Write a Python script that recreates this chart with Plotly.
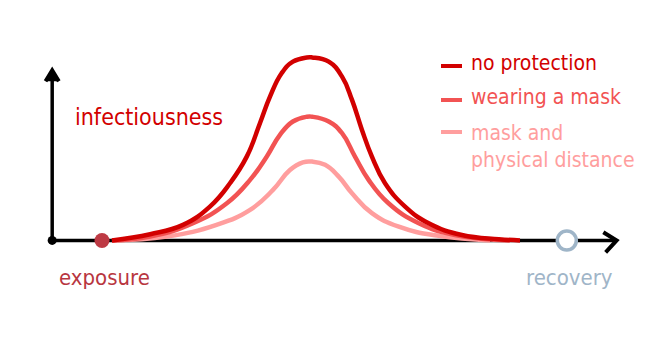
import plotly.graph_objects as go

# ---- data (time in days after exposure, relative infectiousness) ----
t_dark = [0.30, 1.45, 2.44, 3.25, 3.86, 4.36, 4.76, 5.06, 5.41, 5.75, 6.17, 6.33, 6.83, 7.23, 7.53, 7.83, 8.13, 8.52, 9.13, 9.84, 10.84, 11.95, 12.59]
v_dark = [0.0, 0.034, 0.085, 0.185, 0.314, 0.458, 0.642, 0.786, 0.914, 0.977, 1.0, 1.0, 0.977, 0.895, 0.768, 0.604, 0.458, 0.314, 0.185, 0.094, 0.030, 0.007, 0.0]

t_mid = [0.30, 1.45, 2.74, 3.76, 4.46, 4.96, 5.36, 5.75, 6.17, 6.33, 6.83, 7.23, 7.62, 8.03, 8.63, 9.54, 10.63, 12.29]
v_mid = [0.0, 0.021, 0.094, 0.203, 0.331, 0.458, 0.577, 0.650, 0.676, 0.676, 0.650, 0.586, 0.458, 0.331, 0.203, 0.094, 0.030, 0.0]

t_light = [0.30, 1.95, 3.45, 4.46, 5.15, 5.66, 6.05, 6.33, 6.72, 7.13, 7.53, 8.13, 8.94, 10.14, 11.69]
v_light = [0.0, 0.021, 0.085, 0.167, 0.276, 0.385, 0.427, 0.431, 0.413, 0.349, 0.258, 0.149, 0.075, 0.025, 0.0]

series_names = ["no protection", "wearing a mask", "mask and<br>physical distance"]
series_colors = ["#d20000", "#f25353", "#ff9e9e"]

exposure_t, recovery_t = 0.0, 14.0
axis_t0, axis_t1, axis_top = -1.5, 15.5, 0.93

FONT = "Liberation Sans Narrow, DejaVu Sans Condensed, Open Sans, sans-serif"

fig = go.Figure()

# axes (hand-drawn style)
fig.add_trace(go.Scatter(x=[axis_t0, axis_t1], y=[0, 0], mode="lines",
                         line=dict(color="black", width=3.5), hoverinfo="skip"))
fig.add_trace(go.Scatter(x=[axis_t0, axis_t0], y=[0, axis_top], mode="lines",
                         line=dict(color="black", width=3.5), hoverinfo="skip"))
# arrow heads
fig.add_trace(go.Scatter(x=[axis_t1 - 0.4, axis_t1, axis_t1 - 0.33], y=[0.045, 0.0, -0.065], mode="lines",
                         line=dict(color="black", width=4), hoverinfo="skip"))
fig.add_trace(go.Scatter(x=[axis_t0 - 0.2, axis_t0, axis_t0 + 0.2], y=[axis_top - 0.06, axis_top, axis_top - 0.06],
                         mode="lines", line=dict(color="black", width=4), fill="toself",
                         fillcolor="black", hoverinfo="skip"))
fig.add_trace(go.Scatter(x=[axis_t0], y=[0], mode="markers",
                         marker=dict(color="black", size=9), hoverinfo="skip"))

# curves
for t, v, c in [(t_light, v_light, series_colors[2]), (t_mid, v_mid, series_colors[1]), (t_dark, v_dark, series_colors[0])]:
    fig.add_trace(go.Scatter(x=t, y=v, mode="lines", line=dict(color=c, width=4.5, shape="spline", smoothing=1.3),
                             hoverinfo="skip"))

# exposure / recovery markers
fig.add_trace(go.Scatter(x=[exposure_t], y=[0], mode="markers",
                         marker=dict(color="#bd3a44", size=15), hoverinfo="skip"))
fig.add_trace(go.Scatter(x=[recovery_t], y=[0], mode="markers",
                         marker=dict(color="white", size=19, line=dict(color="#9fb5c8", width=3.5)), hoverinfo="skip"))

annotations = [
    dict(x=73 / 669, y=1 - 117 / 342, text="infectiousness", font=dict(size=23, color="#d20000")),
    dict(x=57 / 669, y=1 - 277 / 342, text="exposure", font=dict(size=22, color="#b8363f")),
    dict(x=524 / 669, y=1 - 277 / 342, text="recovery", font=dict(size=22, color="#9fb5c8")),
]
legend_y = [63, 97, 119]
for name, col, ly in zip(series_names, series_colors, legend_y):
    annotations.append(dict(x=469 / 669, y=1 - ly / 342, text=name, yanchor="top" if "<br>" in name else "middle",
                            font=dict(size=21, color=col)))
for a in annotations:
    a.setdefault("yanchor", "middle")
    a.update(xref="paper", yref="paper", xanchor="left", showarrow=False, align="left",
             font=dict(family=FONT, **a["font"]))

shapes = []
for col, ly in zip(series_colors, [66, 100, 132]):
    shapes.append(dict(type="line", xref="paper", yref="paper", x0=441 / 669, x1=462 / 669,
                       y0=1 - ly / 342, y1=1 - ly / 342, line=dict(color=col, width=4)))

fig.update_layout(
    width=669, height=342, margin=dict(l=0, r=0, t=0, b=0),
    paper_bgcolor="white", plot_bgcolor="white", showlegend=False,
    xaxis=dict(range=[-3.072, 17.078], visible=False, fixedrange=True),
    yaxis=dict(range=[-0.555, 1.314], visible=False, fixedrange=True),
    annotations=annotations, shapes=shapes,
)
fig.write_html("out.html")
